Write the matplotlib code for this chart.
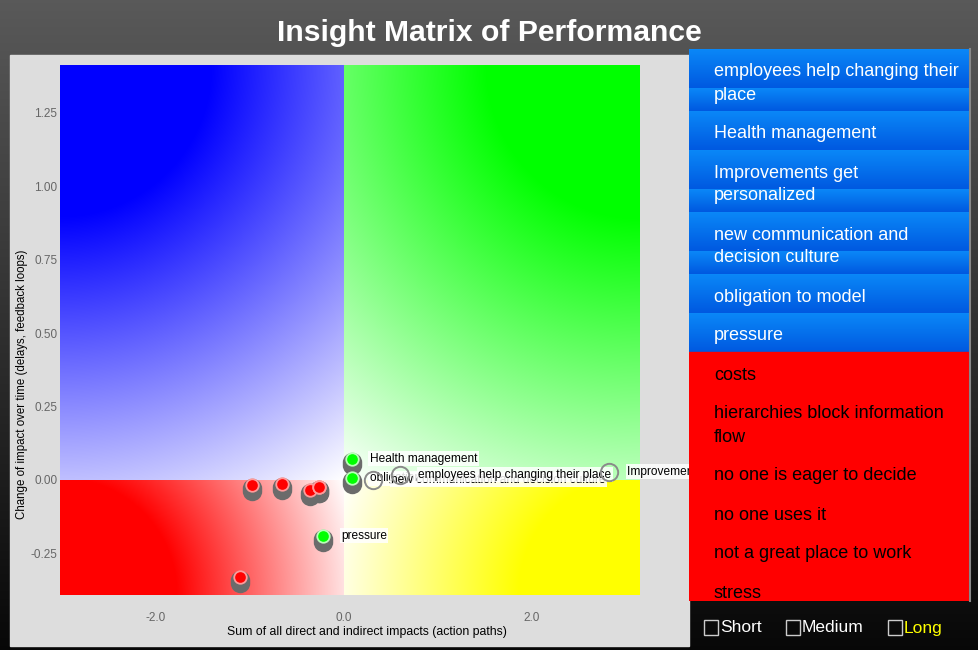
import numpy as np
import matplotlib.pyplot as plt
from matplotlib.patches import Rectangle
from matplotlib.transforms import offset_copy

plt.rcParams['font.family'] = ['Liberation Sans', 'DejaVu Sans']

W, H = 979, 650

# factors: sum of impacts (x), change over time (y)
pos_names = ['employees help changing their place', 'Health management',
             'Improvements get personalized', 'new communication and decision culture',
             'obligation to model', 'pressure']
pos_x = [0.60, 0.082, 2.82, 0.31, 0.082, -0.223]
pos_y = [0.017, 0.0715, 0.028, 0.0, 0.006, -0.19]
pos_active = [False, True, False, False, True, True]

neg_names = ['costs', 'hierarchies block information flow', 'no one is eager to decide',
             'no one uses it', 'not a great place to work', 'stress']
neg_x = [-0.979, -0.66, -0.362, -0.266, -1.106, -0.266]
neg_y = [-0.017, -0.014, -0.034, -0.024, -0.330, -0.024]

xticks = [-2.0, 0.0, 2.0]
yticks = [-0.25, 0.0, 0.25, 0.5, 0.75, 1.0, 1.25]
filters = ['Short', 'Medium', 'Long']
filter_colors = ['white', 'white', '#ffff00']

fig = plt.figure(figsize=(W / 100, H / 100), dpi=100)

# background, panel and title (pixel coordinates)
bg = fig.add_axes([0, 0, 1, 1], zorder=0)
bg.set_xlim(0, W)
bg.set_ylim(H, 0)
bg.axis('off')
grad = np.linspace(0.35, 0.03, 256)[:, None] * np.ones((1, 3))
bg.imshow(grad[:, None, :].repeat(2, axis=1), extent=(0, W, H, 0), aspect='auto')
bg.add_patch(Rectangle((10, 55), 679, 591, color='#dddddd'))
bg.text(489, 33, 'Insight Matrix of Performance', color='white', fontsize=21.7,
        fontweight='bold', ha='center', va='center')

# main quadrant chart
ax = fig.add_axes([60 / W, 55 / H, 580 / W, 530 / H], zorder=1)
xlim = (-3.02, 3.15)
ylim = (-0.392, 1.413)
sx = 580 / (xlim[1] - xlim[0])
sy = 530 / (ylim[1] - ylim[0])
X, Y = np.meshgrid(np.linspace(*xlim, 580), np.linspace(ylim[1], ylim[0], 530))
Xp, Yp = X * sx, Y * sy
img = np.ones((530, 580, 3))
quads = [((0, 0, 1), xlim[0], ylim[1], 0.70), ((0, 1, 0), xlim[1], ylim[1], 0.70),
         ((1, 0, 0), xlim[0], ylim[0], 0.62), ((1, 1, 0), xlim[1], ylim[0], 0.62)]
for col, cx, cy, fade in quads:
    cxp, cyp = cx * sx, cy * sy
    mask = (np.sign(X) == np.sign(cx)) & (np.sign(Y) == np.sign(cy))
    D = np.hypot(cxp, cyp)
    d = np.hypot(Xp - cxp, Yp - cyp)
    f = np.clip((D - d) / (fade * D), 0, 1)
    for k in range(3):
        img[..., k] = np.where(mask, 1 - f + f * col[k], img[..., k])
ax.imshow(img, extent=(xlim[0], xlim[1], ylim[0], ylim[1]), aspect='auto', zorder=0)
ax.set_xlim(xlim)
ax.set_ylim(ylim)
for s in ax.spines.values():
    s.set_visible(False)
ax.set_xticks(xticks, [f'{v:.1f}' for v in xticks])
ax.set_yticks(yticks, [f'{v:.2f}' for v in yticks])
ax.tick_params(length=0, labelsize=8.5, labelcolor='#666666', pad=2)
ax.tick_params(axis='x', pad=12)
ax.set_xlabel('Sum of all direct and indirect impacts (action paths)', fontsize=8.8, va='center')
ax.set_ylabel('Change of impact over time (delays, feedback loops)', fontsize=8.3, va='center')
ax.xaxis.set_label_coords((367 - 60) / 580, (595 - 632) / 530)
ax.yaxis.set_label_coords((22 - 60) / 580, (595 - 384) / 530)

# labels (first item drawn on top)
for i in reversed(range(len(pos_names))):
    ax.annotate(pos_names[i], (pos_x[i], pos_y[i]), xytext=(13, 0), textcoords='offset points',
                va='center', fontsize=8.6, zorder=3 + 0.01 * (len(pos_names) - i),
                bbox=dict(fc='white', ec='none', alpha=0.85, pad=1), annotation_clip=False)

# markers
sh1 = offset_copy(ax.transData, fig=fig, x=0, y=-3, units='dots')
sh2 = offset_copy(ax.transData, fig=fig, x=0, y=-6, units='dots')
gx = [x for x, a in zip(pos_x, pos_active) if a]
gy = [y for y, a in zip(pos_y, pos_active) if a]
fx = [x for x, a in zip(pos_x, pos_active) if not a]
fy = [y for y, a in zip(pos_y, pos_active) if not a]
for xs_, ys_, c, e in [(gx, gy, '#00ff00', '#b8ffb8'), (neg_x, neg_y, '#ff0000', '#ff9a9a')]:
    for tr in (sh2, sh1):
        ax.plot(xs_, ys_, 'o', ms=14, color='#6b6b6b', mec='none', transform=tr, zorder=5)
    ax.plot(xs_, ys_, 'o', ms=9, mfc=c, mec=e, mew=1.3, zorder=6)
ax.plot(fx, fy, 'o', ms=12.5, mfc='none', mec='#8a8a8a', mew=1.4, zorder=5)

# factor list and filters (pixel coordinates)
ui = fig.add_axes([0, 0, 1, 1], zorder=2)
ui.set_xlim(0, W)
ui.set_ylim(H, 0)
ui.axis('off')
rend = fig.canvas.get_renderer()


def wrap(text, maxw=247):
    lines, cur = [], ''
    for w in text.split():
        trial = (cur + ' ' + w).strip()
        t = ui.text(0, 0, trial, fontsize=13)
        wd = t.get_window_extent(rend).width
        t.remove()
        if wd > maxw and cur:
            lines.append(cur)
            cur = w
        else:
            cur = trial
    lines.append(cur)
    return lines


blue_grad = np.array([np.linspace(0.04, 0.0, 32), np.linspace(0.53, 0.35, 32),
                      np.linspace(0.97, 0.88, 32)]).T[:, None, :]
y0 = 49
clip = Rectangle((689, 49), 281, 552, transform=ui.transData)
for name, blue in [(n, True) for n in pos_names] + [(n, False) for n in neg_names]:
    lines = wrap(name)
    segs = [(y0, 39)] + [(y0 + 39 + 23 * k, 23) for k in range(len(lines) - 1)]
    for sy0, sh in segs:
        if blue:
            im = ui.imshow(blue_grad, extent=(689, 970, sy0 + sh, sy0), aspect='auto', zorder=1)
        else:
            im = ui.add_patch(Rectangle((689, sy0), 281, sh, color='#ff0000', zorder=1))
        im.set_clip_path(clip)
    for k, ln in enumerate(lines):
        t = ui.text(714, y0 + 23 + 23 * k, ln, fontsize=13, va='center',
                    color='white' if blue else 'black', zorder=2)
        t.set_clip_path(clip)
    y0 += 39 + 23 * (len(lines) - 1)
ui.plot([970, 970], [49, 601], color='#888888', lw=1.5, zorder=3)
ui.set_xlim(0, W)
ui.set_ylim(H, 0)

for i, (lab, c) in enumerate(zip(filters, filter_colors)):
    bx = [704, 786, 888][i]
    ui.add_patch(Rectangle((bx, 620), 14, 15, fill=False, ec='#cccccc', lw=1))
    ui.text(bx + 16, 628, lab, fontsize=12.5, color=c, va='center')

fig.savefig('out.png', dpi=100)
